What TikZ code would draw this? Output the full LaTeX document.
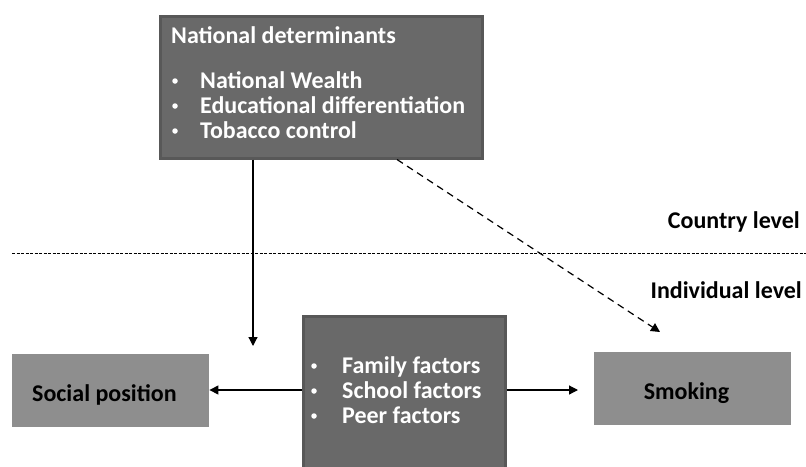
\documentclass[tikz,border=0pt]{standalone}
\usepackage{fontspec}
\setmainfont{Carlito}
\usetikzlibrary{arrows.meta}

\definecolor{boxfill}{RGB}{105,105,105}
\definecolor{boxedge}{RGB}{88,88,88}
\definecolor{lightfill}{RGB}{142,142,142}

\begin{document}
\begin{tikzpicture}[x=1pt,y=-1pt,
  darkbox/.style={draw=boxedge,line width=3pt,fill=boxfill,inner sep=0pt,anchor=north west},
  lightbox/.style={fill=lightfill,inner sep=0pt,anchor=north west},
  whitetxt/.style={text=white,font=\bfseries\fontsize{24}{28}\selectfont,anchor=base west,inner sep=0pt},
  dot/.style={circle,fill=white,inner sep=0pt,minimum size=5.5pt},
  blacktxt/.style={font=\bfseries\fontsize{24}{28}\selectfont,anchor=base east,inner sep=0pt},
  boxtxt/.style={font=\bfseries\fontsize{24}{28}\selectfont,inner sep=0pt},
  link/.style={line width=1.2pt,-{Triangle[length=9pt,width=9pt]}}]
\useasboundingbox (0,0) rectangle (806,466);

\node[darkbox,minimum width=322pt,minimum height=142pt] (natbox) at (158.5,14.5) {};
\node[whitetxt] (nattitle) at (171,43) {National determinants};
\foreach \y/\t/\n in {88/National Wealth/wealth,113/Educational differentiation/edu,138/Tobacco control/tobacco}{
  \node[dot] (b\n) at (175,\y-7) {};
  \node[whitetxt] (\n) at (200,\y) {\t};
}

\node[darkbox,minimum width=202pt,minimum height=170pt] (factors) at (301.5,314.5) {};
\foreach \y/\t/\n in {373/Family factors/family,398/School factors/school,423/Peer factors/peer}{
  \node[dot] (b\n) at (314,\y-7) {};
  \node[whitetxt] (\n) at (342,\y) {\t};
}

\node[lightbox,minimum width=197pt,minimum height=73pt] (social) at (12,354) {};
\node[boxtxt,anchor=base west] (sociallbl) at (32,401) {Social position};
\node[lightbox,minimum width=197pt,minimum height=73pt] (smoking) at (594,352) {};
\node[boxtxt,anchor=base] (smokinglbl) at (686.5,399) {Smoking};

\node[blacktxt] (country) at (800,228) {Country level};
\node[blacktxt] (individual) at (802,298) {Individual level};

\coordinate (lineL) at (12,253);
\coordinate (lineR) at (806,253);
\draw[line width=0.6pt,dash pattern=on 3pt off 1.5pt] (lineL) -- (lineR);

\coordinate (natdown) at (253,346);
\coordinate (natdash) at (397,0);
\coordinate (natdiag) at (660,332);
\draw[link] (natbox.south -| natdown) -- (natdown);
\draw[link,dash pattern=on 7pt off 5pt] (natbox.south -| natdash) -- (natdiag);
\draw[link] (factors.west |- 0,390) -- (social.east |- 0,390);
\draw[link,shorten >=16pt] (factors.east |- 0,390) -- (smoking.west |- 0,390);
\end{tikzpicture}
\end{document}
